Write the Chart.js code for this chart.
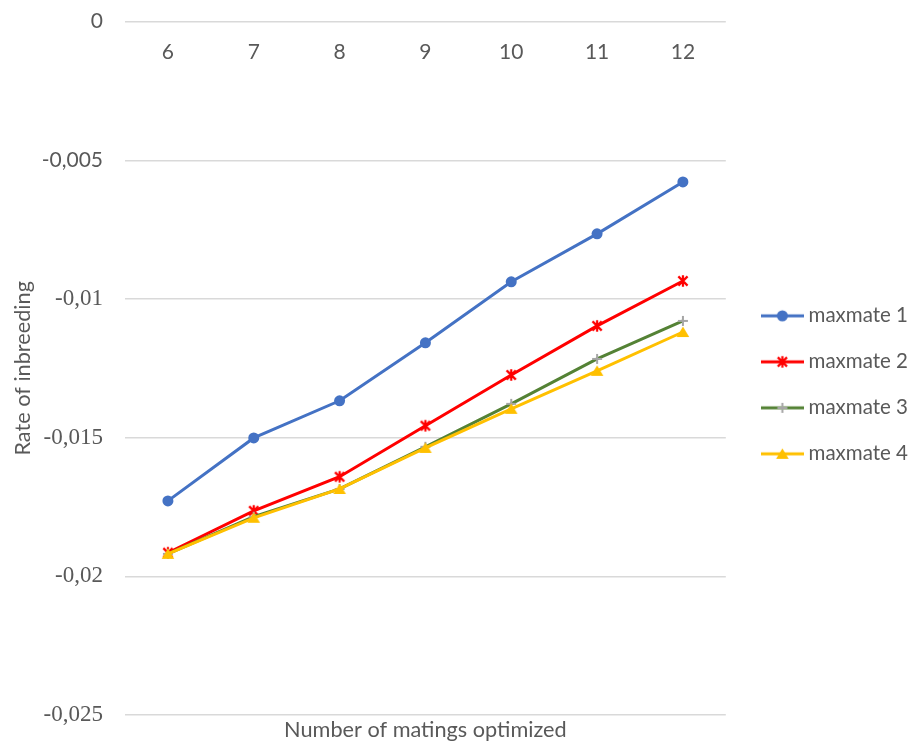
<!DOCTYPE html>
<html>
<head>
<meta charset="utf-8">
<script src="https://cdn.jsdelivr.net/npm/chart.js@4/dist/chart.umd.min.js"></script>
<style>
  html, body { margin: 0; padding: 0; background: #ffffff; }
  canvas { display: block; }
</style>
</head>
<body>
<canvas id="chart" width="918" height="743"></canvas>
<script>
// Number of matings optimized (x categories)
const categories = ['6', '7', '8', '9', '10', '11', '12'];

// Rate of inbreeding for each maxmate setting
const seriesNames = ['maxmate 1', 'maxmate 2', 'maxmate 3', 'maxmate 4'];
const maxmate1 = [-0.01728, -0.01501, -0.01367, -0.01158, -0.00938, -0.00765, -0.00578];
const maxmate2 = [-0.01915, -0.01764, -0.01641, -0.01457, -0.01274, -0.01097, -0.00935];
const maxmate3 = [-0.01919, -0.01785, -0.01685, -0.01533, -0.01378, -0.01216, -0.01079];
const maxmate4 = [-0.01919, -0.01789, -0.01685, -0.01537, -0.01396, -0.01259, -0.01119];

// Value axis ticks and their printed labels (decimal comma)
const yTickValues = [0, -0.005, -0.01, -0.015, -0.02, -0.025];
const yTickLabels = ['0', '-0,005', '-0,01', '-0,015', '-0,02', '-0,025'];

const TEXT = '#595959';
const GRID = '#d9d9d9';
const SANS = 'Lato, "Open Sans", sans-serif';
const SERIF = '"Liberation Serif", "DejaVu Serif", serif';

// ---- marker drawing helpers ----
function drawCircle(ctx, x, y, r, color) {
  ctx.fillStyle = color;
  ctx.beginPath(); ctx.arc(x, y, r, 0, Math.PI * 2); ctx.fill();
}
function drawStar(ctx, x, y, r, color, lw) {
  ctx.strokeStyle = color; ctx.lineWidth = lw; ctx.lineCap = 'butt';
  ctx.beginPath();
  ctx.moveTo(x - r, y - r); ctx.lineTo(x + r, y + r);
  ctx.moveTo(x + r, y - r); ctx.lineTo(x - r, y + r);
  ctx.moveTo(x, y - r * 1.25); ctx.lineTo(x, y + r * 1.25);
  ctx.stroke();
}
function drawPlus(ctx, x, y, r, color, lw) {
  ctx.strokeStyle = color; ctx.lineWidth = lw;
  ctx.beginPath();
  ctx.moveTo(x - r, y); ctx.lineTo(x + r, y);
  ctx.moveTo(x, y - r); ctx.lineTo(x, y + r);
  ctx.stroke();
}
function drawTriangle(ctx, x, y, r, color) {
  ctx.fillStyle = color;
  ctx.beginPath();
  ctx.moveTo(x, y - r);
  ctx.lineTo(x + r * 1.05, y + r * 0.75);
  ctx.lineTo(x - r * 1.05, y + r * 0.75);
  ctx.closePath(); ctx.fill();
}

function markerCanvas(size, painter) {
  const c = document.createElement('canvas');
  c.width = size; c.height = size;
  painter(c.getContext('2d'), size / 2, size / 2);
  return c;
}
function legendIcon(lineColor, painter) {
  const c = document.createElement('canvas');
  c.width = 43; c.height = 16;
  const ctx = c.getContext('2d');
  ctx.strokeStyle = lineColor; ctx.lineWidth = 3;
  ctx.beginPath(); ctx.moveTo(0, 8); ctx.lineTo(43, 8); ctx.stroke();
  painter(ctx, 21.5, 8);
  return c;
}

const BLUE = '#4472C4', RED = '#FF0000', GREEN = '#548235', GRAY = '#A5A5A5', GOLD = '#FFC000';

const starMarker = markerCanvas(14, (ctx, x, y) => drawStar(ctx, x, y, 4.6, RED, 2.2));
const plusMarker = markerCanvas(14, (ctx, x, y) => drawPlus(ctx, x, y, 5, GRAY, 2));
const triMarker = markerCanvas(16, (ctx, x, y) => drawTriangle(ctx, x, y + 0.5, 6, GOLD));

const legendIcons = [
  legendIcon(BLUE, (ctx, x, y) => drawCircle(ctx, x, y, 5.5, BLUE)),
  legendIcon(RED, (ctx, x, y) => drawStar(ctx, x, y, 4.6, RED, 2.2)),
  legendIcon(GREEN, (ctx, x, y) => drawPlus(ctx, x, y, 5, GRAY, 2)),
  legendIcon(GOLD, (ctx, x, y) => drawTriangle(ctx, x, y + 0.5, 6, GOLD))
];

// Moves the legend block away from the plot area
const legendOffset = {
  id: 'legendOffset',
  afterLayout(chart) {
    const l = chart.legend;
    if (!l) return;
    l.left += 15; l.right += 15;
    l.top += 2.5; l.bottom += 2.5;
  }
};

function yTickText(v) {
  const i = yTickValues.findIndex(t => Math.abs(t - v) < 1e-9);
  return i >= 0 ? yTickLabels[i] : '';
}

new Chart(document.getElementById('chart'), {
  type: 'line',
  data: {
    labels: categories,
    datasets: [
      {
        label: seriesNames[0], data: maxmate1, order: 4,
        borderColor: BLUE, backgroundColor: BLUE, borderWidth: 3,
        pointStyle: 'circle', pointRadius: 5.5, pointBackgroundColor: BLUE, pointBorderColor: BLUE, pointBorderWidth: 0
      },
      {
        label: seriesNames[1], data: maxmate2, order: 3,
        borderColor: RED, backgroundColor: RED, borderWidth: 3,
        pointStyle: starMarker, pointRadius: 6
      },
      {
        label: seriesNames[2], data: maxmate3, order: 2,
        borderColor: GREEN, backgroundColor: GREEN, borderWidth: 3,
        pointStyle: plusMarker, pointRadius: 6
      },
      {
        label: seriesNames[3], data: maxmate4, order: 1,
        borderColor: GOLD, backgroundColor: GOLD, borderWidth: 3,
        pointStyle: triMarker, pointRadius: 6
      }
    ]
  },
  options: {
    responsive: false,
    animation: false,
    devicePixelRatio: 1,
    layout: { padding: { top: 21.7, right: 15, bottom: 0, left: 0 } },
    elements: { line: { tension: 0, fill: false } },
    scales: {
      x: {
        type: 'category',
        position: { y: 0 },
        offset: true,
        grid: { display: false, drawTicks: false },
        border: { display: false },
        ticks: { color: TEXT, padding: 18, font: { family: SANS, size: 21 } }
      },
      y: {
        type: 'linear',
        min: -0.025, max: 0,
        afterFit(scale) {
          scale.width = 125;
          scale.paddingTop = 0;
          scale.paddingBottom = 0;
        },
        afterBuildTicks(scale) { scale.ticks = yTickValues.slice().reverse().map(v => ({ value: v })); },
        grid: { color: GRID, lineWidth: 1.5, drawTicks: false },
        border: { display: false },
        ticks: {
          color: TEXT, padding: 22,
          callback: (v) => yTickText(v),
          font: (ctx) => {
            const v = ctx.tick ? ctx.tick.value : 0;
            return v > -0.0075 ? { family: SANS, size: 21 } : { family: SERIF, size: 23 };
          }
        },
        title: {
          display: true, text: 'Rate of inbreeding', color: TEXT,
          font: { family: SANS, size: 21.7 }, padding: { top: 10, bottom: 0 }
        }
      }
    },
    plugins: {
      tooltip: { enabled: false },
      title: {
        display: true, position: 'bottom', fullSize: false,
        text: 'Number of matings optimized', color: TEXT,
        font: { family: SANS, size: 21.7, weight: 'normal' },
        padding: { top: 2, bottom: 0 }
      },
      legend: {
        position: 'right', align: 'center',
        labels: {
          color: TEXT, font: { family: SANS, size: 20.5 },
          usePointStyle: true, pointStyleWidth: 32, padding: 25.5,
          generateLabels(chart) {
            const items = Chart.defaults.plugins.legend.labels.generateLabels(chart);
            items.sort((a, b) => a.datasetIndex - b.datasetIndex);
            items.forEach((it) => { it.pointStyle = legendIcons[it.datasetIndex]; });
            return items;
          }
        }
      }
    }
  },
  plugins: [legendOffset]
});
</script>
</body>
</html>
